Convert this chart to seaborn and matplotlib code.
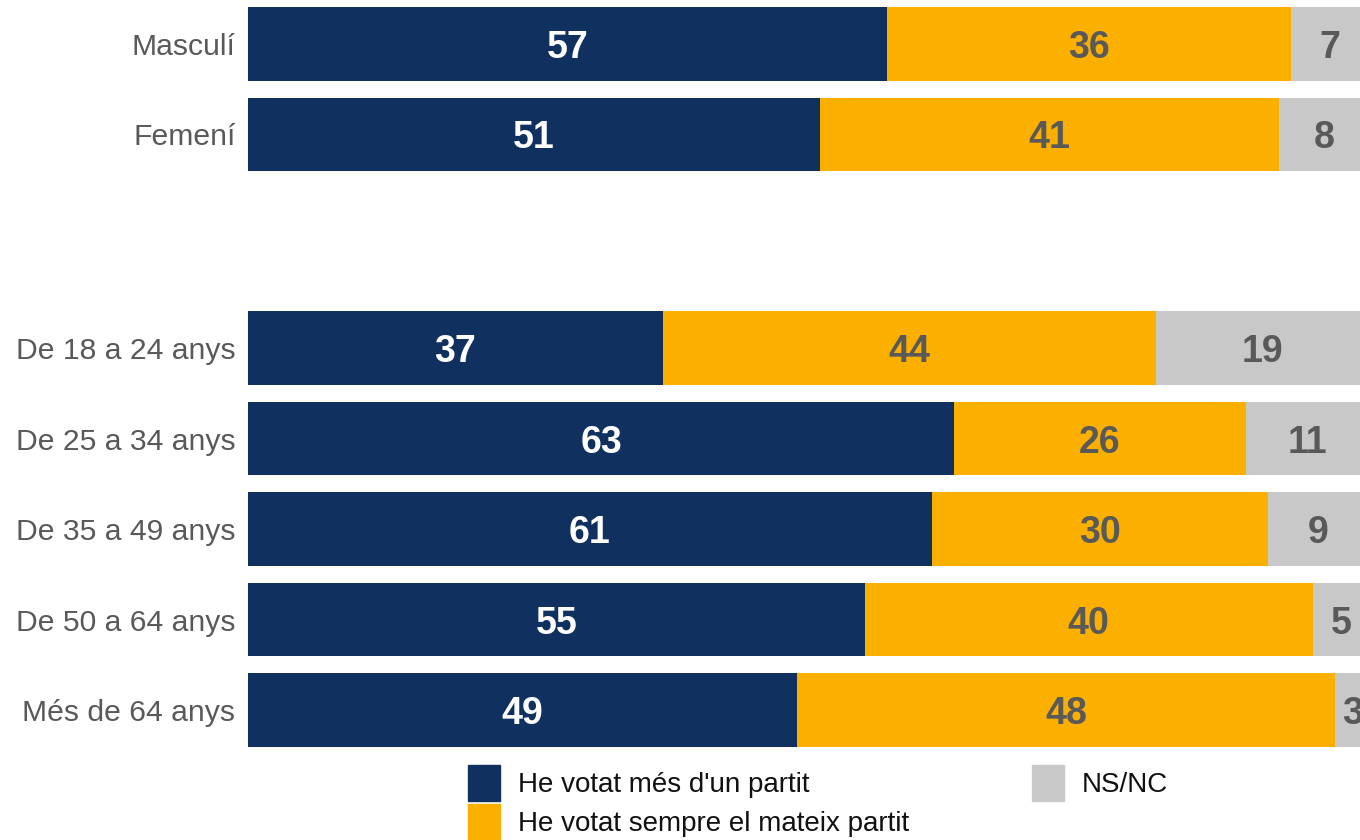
import seaborn as sns
import pandas as pd
import numpy as np
import matplotlib.pyplot as plt

# dades (percentatges)
categories = ['Masculí', 'Femení', 'De 18 a 24 anys', 'De 25 a 34 anys',
              'De 35 a 49 anys', 'De 50 a 64 anys', 'Més de 64 anys']
mes_dun_partit = [57, 51, 37, 63, 61, 55, 49]
sempre_mateix = [36, 41, 44, 26, 30, 40, 48]
ns_nc = [7, 8, 19, 11, 9, 5, 3]
series_names = ["He votat més d'un partit", "He votat sempre el mateix partit", "NS/NC"]

# posicions de les files (hi ha un buit entre sexe i edat)
row_pos = [0, 1, 3.36, 4.36, 5.36, 6.36, 7.36]

navy = '#10305F'
orange = '#FBB000'
grey = '#C8C8C8'

sns.set_theme(style='white')
plt.rcParams['font.family'] = ['Liberation Sans', 'DejaVu Sans']

df = pd.DataFrame({'cat': categories, 'pos': row_pos,
                   'a': mes_dun_partit, 'b': sempre_mateix, 'c': ns_nc})
df['ab'] = df['a'] + df['b']
df['abc'] = df['ab'] + df['c']

fig = plt.figure(figsize=(13.6, 8.4), dpi=100)
ax = fig.add_axes([248 / 1360, 1 - 753.5 / 840, 1121 / 1360, 753.5 / 840])

# barres apilades: es dibuixa el total i a sobre els trams
for col, color in [('abc', grey), ('ab', orange), ('a', navy)]:
    sns.barplot(data=df, x=col, y='pos', orient='h', native_scale=True,
                color=color, width=0.81, saturation=1, linewidth=0, ax=ax)

# etiquetes de valor
lab = dict(ha='center', va='center_baseline', fontsize=27, fontweight='bold')
for i, row in df.iterrows():
    ax.text(row['a'] / 2, row['pos'], str(row['a']), color='white', **lab)
    ax.text(row['a'] + row['b'] / 2, row['pos'], str(row['b']), color='#595959', **lab)
    ax.text(row['ab'] + row['c'] / 2, row['pos'], str(row['c']), color='#595959', **lab)

ax.set_xlim(0, 100)
ax.set_ylim(7.84, -0.486)
ax.set_yticks(row_pos)
ax.set_yticklabels(categories, fontsize=21.7, color='#595959')
ax.tick_params(axis='y', length=0, pad=9)
ax.set_xticks([])
ax.set_xlabel('')
ax.set_ylabel('')
sns.despine(ax=ax, left=True, bottom=True)

handles = [plt.Rectangle((0, 0), 1, 1, color=c) for c in [navy, orange, grey]]
fig.legend(handles, series_names, loc='upper left', ncol=2,
           bbox_to_anchor=(468 / 1360, 1 - 765 / 840), bbox_transform=fig.transFigure,
           frameon=False, fontsize=20, handlelength=1.15, handleheight=1.6,
           handletextpad=0.65, labelspacing=0.12, columnspacing=4.43,
           borderpad=0, borderaxespad=0, labelcolor='#111111')

fig.savefig('out.png', dpi=100)
